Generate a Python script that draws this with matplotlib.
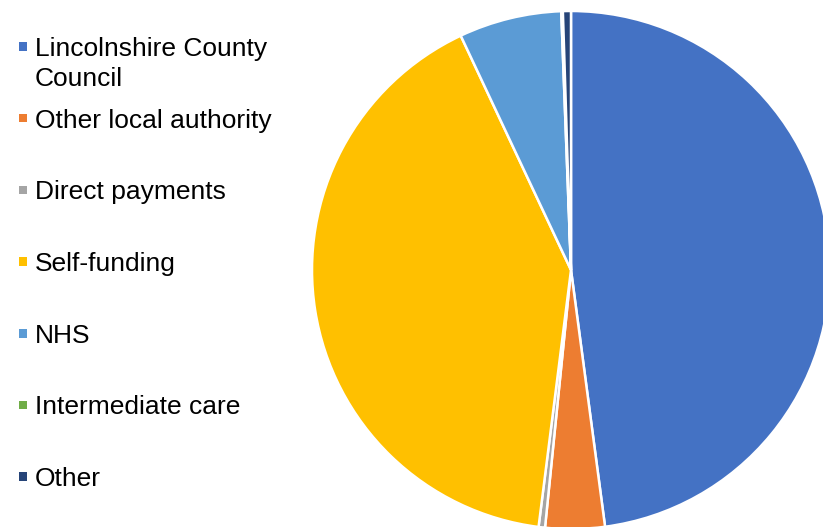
import matplotlib.pyplot as plt
from matplotlib.patches import Rectangle

# Daten (Anteile in %)
labels = ["Lincolnshire County\nCouncil", "Other local authority", "Direct payments",
          "Self-funding", "NHS", "Intermediate care", "Other"]
shares = [47.9, 3.7, 0.4, 41.0, 6.4, 0.1, 0.5]
colors = ["#4472C4", "#ED7D31", "#A5A5A5", "#FFC000", "#5B9BD5", "#70AD47", "#264478"]

W, H = 823, 527
fig = plt.figure(figsize=(W / 100, H / 100), dpi=100)
ax = fig.add_axes([0, 0, 1, 1])

# Kreisdiagramm, im Uhrzeigersinn ab 12 Uhr
ax.pie(shares, colors=colors, startangle=90, counterclock=False,
       center=(571, H - 270), radius=259,
       wedgeprops=dict(edgecolor="white", linewidth=1.8))

ax.set_xlim(0, W)
ax.set_ylim(0, H)
ax.set_aspect("equal")
ax.axis("off")

# Legende von Hand (wie in Excel)
y0, step = 46.5, 71.7
for i, (lab, col) in enumerate(zip(labels, colors)):
    yc = y0 + i * step
    ax.add_patch(Rectangle((18.7, H - yc - 4.2), 8.5, 8.5, facecolor=col, edgecolor="none"))
    for j, line in enumerate(lab.split("\n")):
        ax.text(35, H - (yc + 9.5 + j * 30.5), line, fontsize=19,
                family="Liberation Sans", color="black", va="baseline", ha="left")

fig.savefig("out.png", dpi=100)
